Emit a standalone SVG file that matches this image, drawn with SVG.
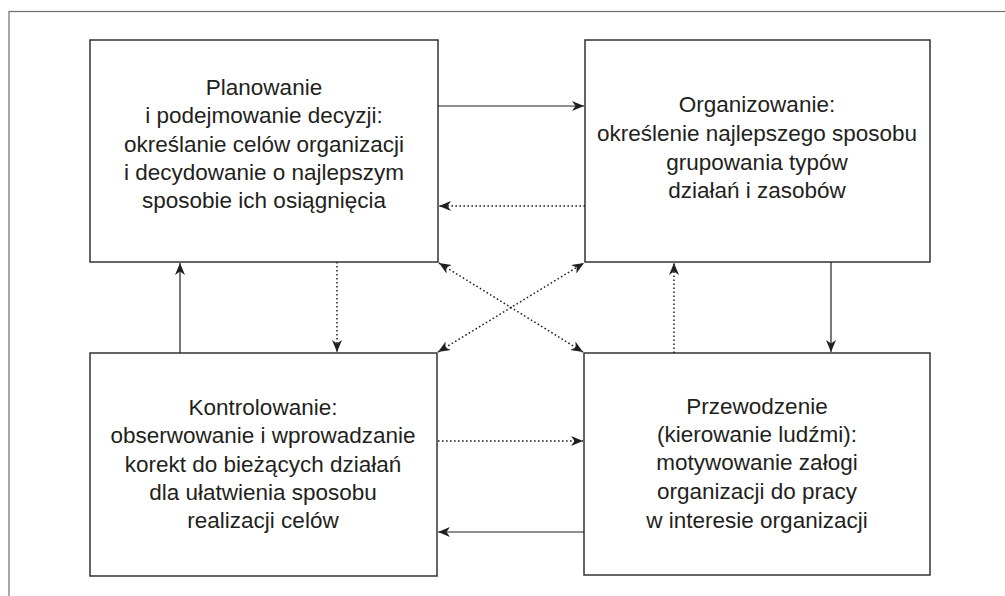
<svg xmlns="http://www.w3.org/2000/svg" width="1005" height="596" viewBox="0 0 1005 596">
<style>
.frame{fill:none;stroke:#6e6e6e;stroke-width:1.2}
.box{fill:#fff;stroke:#333;stroke-width:1.5}
.t{font-family:"Liberation Sans",Arial,sans-serif;font-size:22.5px;fill:#231f20;text-anchor:middle}
.c{fill:none;stroke:#231f20;stroke-width:1.2}
.d{stroke-dasharray:1.6 2.4;stroke-width:1.5}
</style>
<defs>
<marker id="ah" viewBox="0 0 12 10" refX="12" refY="5" markerWidth="12" markerHeight="10" markerUnits="userSpaceOnUse" orient="auto-start-reverse">
<path d="M0,0 L12,5 L0,10 L3.5,5 z" fill="#231f20"/>
</marker>
</defs>
<rect class="frame" x="9" y="11.5" width="1010" height="600"/>
<g id="n-planowanie">
<rect class="box" x="90" y="40" width="348" height="222"/>
<text class="t" x="264" y="95">Planowanie</text>
<text class="t" x="264" y="123">i podejmowanie decyzji:</text>
<text class="t" x="264" y="152">określanie celów organizacji</text>
<text class="t" x="264" y="180">i decydowanie o najlepszym</text>
<text class="t" x="264" y="208">sposobie ich osiągnięcia</text>
</g>
<g id="n-organizowanie">
<rect class="box" x="585" y="40" width="345" height="222"/>
<text class="t" x="757" y="112">Organizowanie:</text>
<text class="t" x="757" y="141">określenie najlepszego sposobu</text>
<text class="t" x="757" y="170">grupowania typów</text>
<text class="t" x="757" y="198">działań i zasobów</text>
</g>
<g id="n-kontrolowanie">
<rect class="box" x="90" y="353" width="347" height="223"/>
<text class="t" x="263" y="415">Kontrolowanie:</text>
<text class="t" x="263" y="443">obserwowanie i wprowadzanie</text>
<text class="t" x="263" y="472">korekt do bieżących działań</text>
<text class="t" x="263" y="500">dla ułatwienia sposobu</text>
<text class="t" x="263" y="528">realizacji celów</text>
</g>
<g id="n-przewodzenie">
<rect class="box" x="584" y="353" width="346" height="222"/>
<text class="t" x="757" y="414">Przewodzenie</text>
<text class="t" x="757" y="442">(kierowanie ludźmi):</text>
<text class="t" x="757" y="470">motywowanie załogi</text>
<text class="t" x="757" y="499">organizacji do pracy</text>
<text class="t" x="757" y="528">w interesie organizacji</text>
</g>
<g id="connectors">
<line class="c" x1="438" y1="106" x2="584" y2="106" marker-end="url(#ah)"/>
<line class="c d" x1="585" y1="206" x2="439" y2="206" marker-end="url(#ah)"/>
<line class="c d" x1="337" y1="262" x2="337" y2="352" marker-end="url(#ah)"/>
<line class="c" x1="180" y1="353" x2="180" y2="263" marker-end="url(#ah)"/>
<line class="c d" x1="439" y1="263" x2="583" y2="352" marker-start="url(#ah)" marker-end="url(#ah)"/>
<line class="c d" x1="438" y1="352" x2="584" y2="263" marker-start="url(#ah)" marker-end="url(#ah)"/>
<line class="c" x1="831" y1="262" x2="831" y2="352" marker-end="url(#ah)"/>
<line class="c d" x1="674" y1="353" x2="674" y2="263" marker-end="url(#ah)"/>
<line class="c d" x1="438" y1="441" x2="583" y2="441" marker-end="url(#ah)"/>
<line class="c" x1="584" y1="532" x2="438" y2="532" marker-end="url(#ah)"/>
</g>
</svg>
